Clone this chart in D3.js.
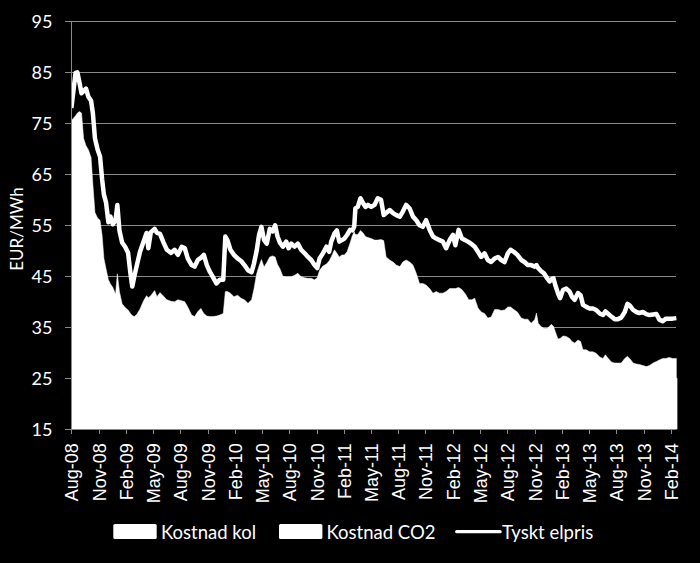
<!DOCTYPE html>
<html>
<head>
<meta charset="utf-8">
<script src="https://cdn.jsdelivr.net/npm/d3@7"></script>
<style>
  html, body { margin: 0; padding: 0; background: #000; }
  svg { display: block; }
</style>
</head>
<body>
<svg id="chart" width="700" height="563"></svg>
<script>
// ---------------- DATA ----------------
const dates = [
"2008-08-01","2008-08-08","2008-08-15","2008-08-21","2008-08-28","2008-09-04","2008-09-11","2008-09-19","2008-09-27",
"2008-10-06","2008-10-12","2008-10-19","2008-10-28","2008-11-05","2008-11-12","2008-11-18","2008-11-25",
"2008-12-03","2008-12-10","2008-12-18","2008-12-27","2009-01-02","2009-01-09","2009-01-18","2009-01-28",
"2009-02-07","2009-02-15","2009-02-21","2009-02-28","2009-03-09","2009-03-19","2009-03-31","2009-04-10",
"2009-04-16","2009-04-24","2009-05-07","2009-05-15","2009-05-25","2009-06-06","2009-06-17","2009-07-01",
"2009-07-13","2009-07-24","2009-08-06","2009-08-16","2009-08-26","2009-09-08","2009-09-18","2009-09-29",
"2009-10-09","2009-10-19","2009-10-29","2009-11-08","2009-11-18","2009-11-30","2009-12-11","2009-12-23",
"2009-12-30","2010-01-06","2010-01-16","2010-01-28","2010-02-09","2010-02-21","2010-03-04","2010-03-16",
"2010-03-28","2010-04-05","2010-04-14","2010-04-22","2010-04-30","2010-05-09","2010-05-18","2010-05-28",
"2010-06-06","2010-06-15","2010-06-23","2010-07-01","2010-07-11","2010-07-22","2010-07-30","2010-08-08",
"2010-08-19","2010-08-30","2010-09-10","2010-09-22","2010-10-03","2010-10-14","2010-10-25","2010-11-03",
"2010-11-11","2010-11-22","2010-12-04","2010-12-13","2010-12-20","2010-12-31","2011-01-08","2011-01-16",
"2011-01-25","2011-02-02","2011-02-11","2011-02-21","2011-03-01","2011-03-07","2011-03-11","2011-03-19",
"2011-03-28","2011-04-06","2011-04-14","2011-04-22","2011-05-03","2011-05-14","2011-05-25","2011-06-05",
"2011-06-14","2011-06-22","2011-07-04","2011-07-15","2011-07-26","2011-08-07","2011-08-17","2011-08-28",
"2011-09-09","2011-09-20","2011-10-01","2011-10-12","2011-10-23","2011-11-03","2011-11-15","2011-11-26",
"2011-12-07","2011-12-18","2011-12-29","2012-01-09","2012-01-21","2012-02-01","2012-02-09","2012-02-20",
"2012-03-02","2012-03-13","2012-03-25","2012-04-04","2012-04-14","2012-04-25","2012-05-06","2012-05-17",
"2012-05-28","2012-06-08","2012-06-20","2012-07-01","2012-07-12","2012-07-23","2012-08-03","2012-08-12",
"2012-08-23","2012-09-04","2012-09-17","2012-09-28","2012-10-09","2012-10-20","2012-11-01","2012-11-07",
"2012-11-13","2012-11-23","2012-12-02","2012-12-13","2012-12-21","2012-12-27","2013-01-03","2013-01-09",
"2013-01-18","2013-01-25","2013-02-04","2013-02-15","2013-02-26","2013-03-06","2013-03-15","2013-03-26",
"2013-04-04","2013-04-12","2013-04-23","2013-05-04","2013-05-15","2013-05-26","2013-06-07","2013-06-18",
"2013-06-26","2013-07-06","2013-07-16","2013-07-27","2013-08-07","2013-08-18","2013-08-30","2013-09-08",
"2013-09-17","2013-09-27","2013-10-08","2013-10-18","2013-10-30","2013-11-10","2013-11-21","2013-12-03",
"2013-12-14","2013-12-24","2014-01-04","2014-01-15","2014-01-26","2014-02-06","2014-02-19"
];

// Cost of coal (EUR/MWh), bottom of the stack
const kostnadKol = [
55.6,56.0,56.5,57.0,57.3,57.0,52.0,50.6,49.8,
50.3,45.0,39.5,38.4,41.0,38.0,33.5,31.5,
31.3,30.5,29.8,28.5,35.5,32.0,29.6,28.9,
28.4,27.7,27.3,27.1,27.6,28.6,30.2,29.2,
28.8,29.2,30.2,29.0,29.8,29.1,28.4,28.1,
28.0,28.4,28.2,28.0,27.0,25.4,25.1,26.1,
26.7,25.7,25.2,25.1,25.1,25.2,25.4,25.7,
30.0,29.0,28.7,28.0,28.3,27.7,27.4,26.7,
27.4,29.5,32.5,34.0,35.3,33.8,34.7,35.8,
36.0,35.8,34.3,33.5,32.0,31.9,31.9,31.9,
32.2,32.6,31.9,31.7,31.6,31.6,31.3,31.7,
33.2,34.0,34.4,35.0,35.8,37.2,35.5,34.8,
35.2,35.2,35.8,37.5,39.0,39.7,39.2,39.2,
40.0,39.5,38.8,38.6,38.4,38.1,38.1,38.2,
38.0,34.8,37.2,36.8,36.2,35.9,36.8,37.2,
36.8,36.2,37.6,35.6,35.6,35.3,34.6,33.7,
34.0,33.7,33.7,36.0,36.6,36.6,36.6,36.8,
36.4,35.6,34.4,34.4,34.7,32.8,32.0,31.7,
30.8,31.0,32.5,32.5,32.3,32.4,33.0,33.0,
32.5,32.0,30.8,30.6,30.6,29.8,30.5,31.8,
29.8,29.1,28.8,28.8,29.2,29.6,31.2,30.2,
28.7,28.8,29.3,29.2,28.8,28.2,27.9,28.5,
28.2,26.6,26.6,26.2,26.2,25.9,25.2,24.9,
25.6,24.9,24.2,24.0,24.0,24.0,24.9,25.3,
24.8,24.0,23.8,23.7,23.5,23.3,23.5,24.0,
24.3,24.6,24.9,24.9,25.1,24.9,24.9
];

// Cost of CO2 (EUR/MWh), stacked on top of coal
const kostnadCO2 = [
20,20,20,20,20,20,20,20,20,
18,18,18,18,15,15,15,15,
13,13,13,13,10,10,10,10,
10,10,10,10,10,10,10,12,
12,12,12,12,12,12,12,12,
12,12,12,12,12,12,12,12,
12,12,12,12,12,12,12,12,
12,13,13,13,13,13,13,13,
13,13,13,13,13,13,13,13,
13,13,13,13,13,13,13,13,
13,13,13,13,13,13,13,13,
13,13,13,13,13,13,14,14,
14,14,14,14,14,14,14,14,
14,14,14,14,14,14,14,14,
14,14,11,11,11,11,11,11,
11,11,8,8,8,8,8,8,
8,8,8,6,6,6,6,6,
6,6,6,6,6,6,6,6,
6,6,6,6,6,6,6,6,
6,6,6,6,6,6,6,6,
6,6,6,6,6,6,4,4,
4,4,4,4,4,4,4,4,
4,4,4,4,4,4,4,4,
4,4,4,4,4,4,4,4,
4,4,4,4,4,4,4,4,
4,4,4,4,4,4,4
];

// German power price (EUR/MWh)
const tysktElpris = [
78.0,81.5,84.9,85.0,83.0,80.9,81.3,81.8,80.2,
79.4,77.0,72.0,69.8,68.5,64.0,61.0,59.5,
55.6,56.7,55.2,56.0,59.0,54.0,51.6,50.8,
49.6,45.5,43.0,45.0,47.3,49.8,51.8,53.5,
50.5,53.6,54.3,53.5,53.3,51.6,50.2,49.6,
50.2,49.2,50.8,50.5,48.5,47.2,46.9,48.2,
48.6,49.2,47.2,45.9,44.9,43.6,44.3,44.3,
52.8,52.1,50.2,49.2,48.5,48.0,47.2,46.2,
45.8,47.5,50.0,53.1,54.7,52.1,51.4,54.3,
53.8,55.0,52.8,51.6,50.8,51.8,50.5,51.4,
50.8,51.4,50.2,49.5,48.8,48.2,47.2,46.6,
48.5,49.5,50.8,49.8,51.8,53.4,54.0,51.8,
52.1,52.4,53.1,54.1,54.0,54.7,58.3,58.6,
60.3,59.3,58.6,59.0,58.6,59.0,60.3,60.0,
57.0,57.4,58.0,57.4,57.0,56.7,57.7,59.0,
58.3,56.7,56.0,55.0,54.7,56.0,54.1,52.8,
52.4,52.1,51.8,50.5,52.1,53.1,51.1,54.1,
52.4,52.1,51.7,51.3,50.8,49.8,48.8,49.5,
48.2,47.8,48.5,48.8,48.2,47.8,49.5,50.2,
49.8,49.2,48.2,47.8,47.2,47.2,46.9,47.2,
46.6,46.0,45.6,44.6,44.0,44.4,44.6,43.3,
41.7,40.7,42.3,42.6,42.0,41.0,40.4,41.7,
41.3,39.4,39.0,38.7,38.7,38.4,37.7,37.4,
38.1,37.6,37.1,36.6,36.6,36.9,38.0,39.6,
39.2,38.4,38.0,37.8,38.0,37.6,37.4,37.5,
37.6,36.5,36.2,36.7,36.7,36.7,36.8
];

const yTicks = [15, 25, 35, 45, 55, 65, 75, 85, 95];
const xTickLabels = ["Aug-08","Nov-08","Feb-09","May-09","Aug-09","Nov-09","Feb-10","May-10","Aug-10",
  "Nov-10","Feb-11","May-11","Aug-11","Nov-11","Feb-12","May-12","Aug-12","Nov-12","Feb-13",
  "May-13","Aug-13","Nov-13","Feb-14"];
const seriesNames = ["Kostnad kol", "Kostnad CO2", "Tyskt elpris"];

// ---------------- CHART ----------------
(function () {
const svg = d3.select("#chart");
const parseDay = d3.timeParse("%Y-%m-%d");
const parseTick = d3.timeParse("%b-%y");

const n = Math.min(dates.length, kostnadKol.length, kostnadCO2.length, tysktElpris.length);
const rows = dates.slice(0, n).map((d, i) => ({
  date: parseDay(d), kol: kostnadKol[i], co2: kostnadCO2[i], el: tysktElpris[i]
}));

const pLeft = 71.4, pRight = 676, pTop = 21.3, pBottom = 429.3;
const x = d3.scaleTime()
  .domain([parseDay("2008-08-01"), parseDay("2014-02-01")])
  .range([71.4, 671]);
const y = d3.scaleLinear().domain([15, 95]).range([pBottom, pTop]);

const gridColor = "#8a8a8a";

// gridlines
svg.append("g").selectAll("line")
  .data(yTicks.filter(v => v > 15))
  .join("line")
  .attr("x1", pLeft).attr("x2", pRight)
  .attr("y1", d => y(d)).attr("y2", d => y(d))
  .attr("stroke", gridColor).attr("stroke-width", 1)
  .attr("shape-rendering", "crispEdges");

// clip
svg.append("defs").append("clipPath").attr("id", "plotClip")
  .append("rect").attr("x", pLeft).attr("y", pTop - 10)
  .attr("width", pRight - pLeft + 2).attr("height", pBottom - pTop + 10);

const stack = d3.stack().keys(["kol", "co2"]);
const stacked = stack(rows);

const area = d3.area()
  .x(d => x(d.data.date))
  .y0(d => y(d[0]))
  .y1(d => y(d[1]));

const plot = svg.append("g").attr("clip-path", "url(#plotClip)");
plot.selectAll("path.area")
  .data(stacked)
  .join("path")
  .attr("class", "area")
  .attr("d", area)
  .attr("fill", "#ffffff")
  .attr("stroke", "#ffffff")
  .attr("stroke-width", (d, i) => i === 0 ? 2 : 0.5)
  .attr("stroke-linejoin", "round");

const line = d3.line()
  .x(d => x(d.date))
  .y(d => y(d.el));

plot.append("path")
  .datum(rows)
  .attr("d", line)
  .attr("fill", "none")
  .attr("stroke", "#ffffff")
  .attr("stroke-width", 4.5)
  .attr("stroke-linejoin", "round");

// Y axis
const yAxis = d3.axisLeft(y).tickValues(yTicks).tickSize(6).tickPadding(13);
const gy = svg.append("g").attr("transform", `translate(${pLeft},0)`).call(yAxis);
gy.select(".domain").remove();
gy.selectAll(".tick line").attr("stroke", gridColor).attr("shape-rendering", "crispEdges");
gy.selectAll(".tick text")
  .attr("fill", "#ffffff")
  .style("font-family", "Lato, 'Noto Sans', sans-serif")
  .style("font-size", "18px");

svg.append("line")
  .attr("x1", pLeft).attr("x2", pLeft).attr("y1", pTop).attr("y2", pBottom)
  .attr("stroke", gridColor).attr("shape-rendering", "crispEdges");
svg.append("line")
  .attr("x1", pLeft).attr("x2", pRight).attr("y1", pBottom).attr("y2", pBottom)
  .attr("stroke", gridColor).attr("shape-rendering", "crispEdges");

// X axis
const tickDates = xTickLabels.map(parseTick);
const xAxis = d3.axisBottom(x).tickValues(tickDates).tickSize(5)
  .tickFormat((d, i) => xTickLabels[i]);
const gx = svg.append("g").attr("transform", `translate(0,${pBottom})`).call(xAxis);
gx.select(".domain").remove();
gx.selectAll(".tick line").attr("stroke", gridColor).attr("shape-rendering", "crispEdges");
gx.selectAll(".tick text")
  .attr("fill", "#ffffff")
  .attr("transform", "rotate(-90)")
  .attr("text-anchor", "end")
  .attr("x", -14)
  .attr("y", 0)
  .attr("dy", "0.36em")
  .style("font-family", "'Liberation Sans', Arial, sans-serif")
  .style("font-size", "18px");

// Y title
svg.append("text")
  .attr("transform", "translate(23,229) rotate(-90)")
  .attr("text-anchor", "middle")
  .attr("fill", "#ffffff")
  .style("font-family", "Lato, 'Noto Sans', sans-serif")
  .style("font-size", "17px")
  .text("EUR/MWh");

// Legend
const legend = svg.append("g");
const legendItems = [
  { name: seriesNames[0], type: "box", x: 113.3, tx: 161 },
  { name: seriesNames[1], type: "box", x: 279, tx: 326.5 },
  { name: seriesNames[2], type: "line", x: 456.7, tx: 502 }
];
legendItems.forEach(it => {
  if (it.type === "box") {
    legend.append("rect").attr("x", it.x).attr("y", 524).attr("width", 43.4).attr("height", 15)
      .attr("rx", 1.5).attr("fill", "#ffffff");
  } else {
    legend.append("line").attr("x1", it.x).attr("x2", it.x + 43.4).attr("y1", 531.7).attr("y2", 531.7)
      .attr("stroke", "#ffffff").attr("stroke-width", 3.2).attr("stroke-linecap", "round");
  }
  legend.append("text").attr("x", it.tx).attr("y", 538.5)
    .attr("fill", "#ffffff")
    .style("font-family", "Lato, 'Noto Sans', sans-serif")
    .style("font-size", "18.5px")
    .text(it.name);
});

if (n !== dates.length || n !== kostnadKol.length || n !== kostnadCO2.length || n !== tysktElpris.length) {
  throw new Error("length mismatch " + [dates.length, kostnadKol.length, kostnadCO2.length, tysktElpris.length].join(","));
}
})();
</script>
</body>
</html>
